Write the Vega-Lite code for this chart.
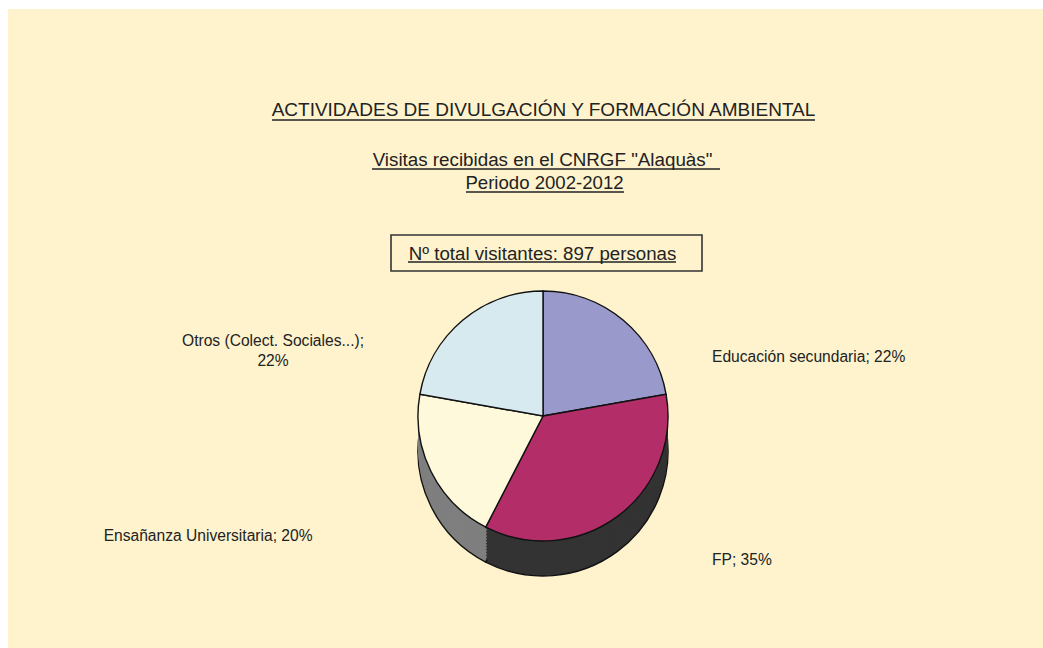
{
  "$schema": "https://vega.github.io/schema/vega-lite/v6.json",
  "width": 1043,
  "height": 648,
  "autosize": {"type": "fit", "contains": "padding"},
  "padding": {"left": 8, "top": 9, "right": 0, "bottom": 0},
  "background": "#ffffff",
  "config": {"view": {"fill": "#FEF3CD", "stroke": null}, "text": {"font": "Liberation Sans"}},
  "layer": [
    {
      "data": {"values": [
        {"categoria": "Educación secundaria", "porcentaje": 22, "orden": 1, "etiqueta": "Educación secundaria; 22%"},
        {"categoria": "FP", "porcentaje": 35, "orden": 2, "etiqueta": "FP; 35%"},
        {"categoria": "Ensañanza Universitaria", "porcentaje": 20, "orden": 3, "etiqueta": "Ensañanza Universitaria; 20%"},
        {"categoria": "Otros (Colect. Sociales...)", "porcentaje": 22, "orden": 4, "etiqueta": "Otros (Colect. Sociales...);\n22%"}
      ]},
      "encoding": {
        "theta": {"field": "porcentaje", "type": "quantitative", "stack": true},
        "order": {"field": "orden", "type": "quantitative"}
      },
      "layer": [
        {"mark": {"type": "arc", "radius": 125, "x": 535, "y": 407, "yOffset": 35, "stroke": "#111", "strokeWidth": 1.4},
         "encoding": {"fill": {"field": "categoria", "type": "nominal", "legend": null,
           "scale": {"domain": ["Educación secundaria", "FP", "Ensañanza Universitaria", "Otros (Colect. Sociales...)"], "range": ["#6E6E9E", "#333333", "#7F7F7F", "#9FB3BA"]}}}},
        {"mark": {"type": "arc", "radius": 125, "x": 535, "y": 407, "yOffset": 32}, "encoding": {"fill": {"field": "categoria", "type": "nominal", "legend": null}}},
        {"mark": {"type": "arc", "radius": 125, "x": 535, "y": 407, "yOffset": 29}, "encoding": {"fill": {"field": "categoria", "type": "nominal", "legend": null}}},
        {"mark": {"type": "arc", "radius": 125, "x": 535, "y": 407, "yOffset": 26}, "encoding": {"fill": {"field": "categoria", "type": "nominal", "legend": null}}},
        {"mark": {"type": "arc", "radius": 125, "x": 535, "y": 407, "yOffset": 23}, "encoding": {"fill": {"field": "categoria", "type": "nominal", "legend": null}}},
        {"mark": {"type": "arc", "radius": 125, "x": 535, "y": 407, "yOffset": 20}, "encoding": {"fill": {"field": "categoria", "type": "nominal", "legend": null}}},
        {"mark": {"type": "arc", "radius": 125, "x": 535, "y": 407, "yOffset": 17}, "encoding": {"fill": {"field": "categoria", "type": "nominal", "legend": null}}},
        {"mark": {"type": "arc", "radius": 125, "x": 535, "y": 407, "yOffset": 14}, "encoding": {"fill": {"field": "categoria", "type": "nominal", "legend": null}}},
        {"mark": {"type": "arc", "radius": 125, "x": 535, "y": 407, "yOffset": 11}, "encoding": {"fill": {"field": "categoria", "type": "nominal", "legend": null}}},
        {"mark": {"type": "arc", "radius": 125, "x": 535, "y": 407, "yOffset": 8}, "encoding": {"fill": {"field": "categoria", "type": "nominal", "legend": null}}},
        {"mark": {"type": "arc", "radius": 125, "x": 535, "y": 407, "yOffset": 5}, "encoding": {"fill": {"field": "categoria", "type": "nominal", "legend": null}}},
        {"mark": {"type": "arc", "radius": 125, "x": 535, "y": 407, "yOffset": 2}, "encoding": {"fill": {"field": "categoria", "type": "nominal", "legend": null}}},
        {"mark": {"type": "arc", "radius": 125, "x": 535, "y": 407, "stroke": "#111", "strokeWidth": 1.4},
         "encoding": {"color": {"field": "categoria", "type": "nominal", "legend": null,
           "scale": {"domain": ["Educación secundaria", "FP", "Ensañanza Universitaria", "Otros (Colect. Sociales...)"], "range": ["#9999CC", "#B32D69", "#FFF9DC", "#D7EAF0"]}}}},
        {"mark": {"type": "text", "radius": 140, "x": 535, "y": 407, "dx": 79, "dy": 48, "align": "left", "baseline": "middle", "fontSize": 15.6, "fill": "#222"},
         "encoding": {"text": {"condition": {"test": "datum.orden === 1", "field": "etiqueta"}, "value": ""}}},
        {"mark": {"type": "text", "radius": 140, "x": 535, "y": 407, "dx": 86, "dy": 31, "align": "left", "baseline": "middle", "fontSize": 15.6, "fill": "#222"},
         "encoding": {"text": {"condition": {"test": "datum.orden === 2", "field": "etiqueta"}, "value": ""}}},
        {"mark": {"type": "text", "radius": 140, "x": 535, "y": 407, "dx": -105, "dy": 58, "align": "right", "baseline": "middle", "fontSize": 15.6, "fill": "#222"},
         "encoding": {"text": {"condition": {"test": "datum.orden === 3", "field": "etiqueta"}, "value": ""}}},
        {"mark": {"type": "text", "radius": 140, "x": 535, "y": 407, "dx": -180, "dy": 32, "align": "center", "baseline": "middle", "lineBreak": "\n", "lineHeight": 20, "fontSize": 15.6, "fill": "#222"},
         "encoding": {"text": {"condition": {"test": "datum.orden === 4", "field": "etiqueta"}, "value": ""}}}
      ]
    },
    {"data": {"values": [{}]},
     "mark": {"type": "text", "x": 535.5, "y": 101, "align": "center", "baseline": "middle", "fontSize": 19, "fill": "#222"},
     "encoding": {"text": {"value": "ACTIVIDADES DE DIVULGACIÓN Y FORMACIÓN AMBIENTAL"}}},
    {"data": {"values": [{}]},
     "mark": {"type": "text", "x": 534.5, "y": 151, "align": "center", "baseline": "middle", "fontSize": 18.8, "fill": "#222"},
     "encoding": {"text": {"value": "Visitas recibidas en el CNRGF \"Alaquàs\""}}},
    {"data": {"values": [{}]},
     "mark": {"type": "text", "x": 536.5, "y": 174, "align": "center", "baseline": "middle", "fontSize": 18.6, "fill": "#222"},
     "encoding": {"text": {"value": "Periodo 2002-2012"}}},
    {"data": {"values": [{}]},
     "mark": {"type": "text", "x": 534.5, "y": 245, "align": "center", "baseline": "middle", "fontSize": 18.7, "fill": "#222"},
     "encoding": {"text": {"value": "Nº total visitantes: 897 personas"}}},
    {"data": {"values": [{}]},
     "mark": {"type": "rect", "fill": null, "stroke": "#333", "strokeWidth": 1.6},
     "encoding": {"x": {"value": 383}, "x2": {"value": 694}, "y": {"value": 226}, "y2": {"value": 262}}},
    {"data": {"values": [{}]},
     "mark": {"type": "rule", "stroke": "#222", "strokeWidth": 1.4},
     "encoding": {"x": {"value": 264}, "x2": {"value": 807}, "y": {"value": 111}}},
    {"data": {"values": [{}]},
     "mark": {"type": "rule", "stroke": "#222", "strokeWidth": 1.4},
     "encoding": {"x": {"value": 364}, "x2": {"value": 712}, "y": {"value": 160}}},
    {"data": {"values": [{}]},
     "mark": {"type": "rule", "stroke": "#222", "strokeWidth": 1.4},
     "encoding": {"x": {"value": 458}, "x2": {"value": 616}, "y": {"value": 183}}},
    {"data": {"values": [{}]},
     "mark": {"type": "rule", "stroke": "#222", "strokeWidth": 1.4},
     "encoding": {"x": {"value": 400}, "x2": {"value": 668}, "y": {"value": 253}}}
  ]
}
